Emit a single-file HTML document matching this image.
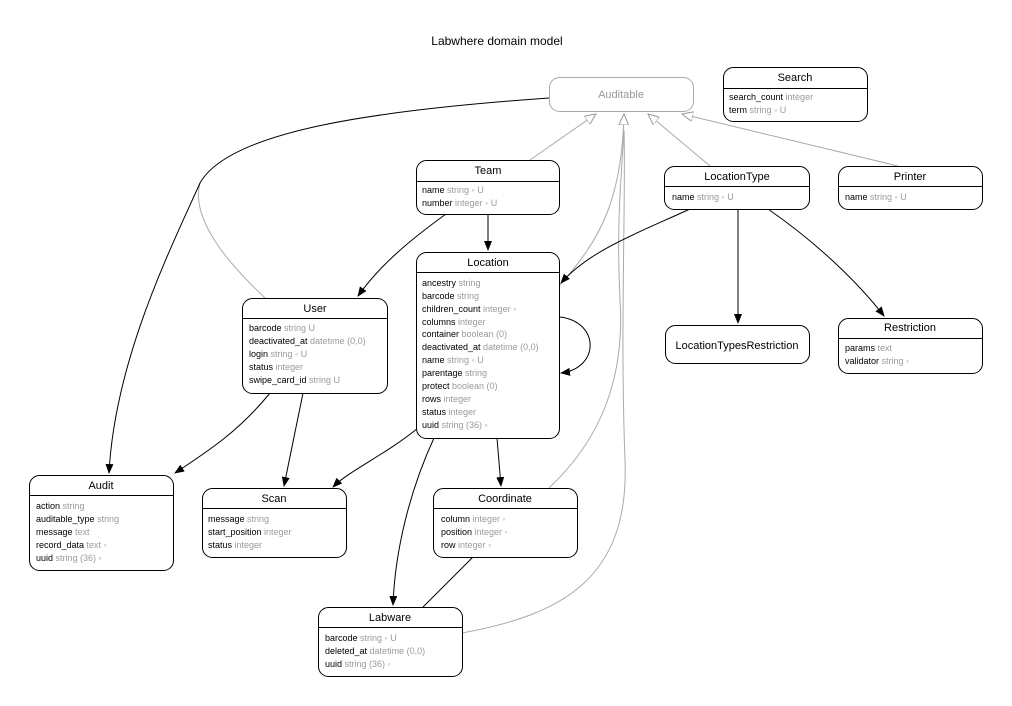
<!DOCTYPE html>
<html><head><meta charset="utf-8"><style>
html,body{margin:0;padding:0;background:#fff;}
svg{display:block;font-family:"Liberation Sans",Arial,sans-serif;}
.b{fill:#000;font-size:9px;}
.g{fill:#9a9a9a;font-size:9px;}
.h{font-size:11px;fill:#000;}
</style></head><body>
<svg width="1012" height="706" viewBox="0 0 1012 706" xmlns="http://www.w3.org/2000/svg">
<defs>
<marker id="a" markerWidth="10" markerHeight="8" refX="9" refY="4" orient="auto" markerUnits="userSpaceOnUse"><path d="M0,0 L10,4 L0,8 z" fill="#000"/></marker>
<marker id="h" markerWidth="12" markerHeight="10" refX="11" refY="5" orient="auto" markerUnits="userSpaceOnUse"><path d="M0,0 L11,5 L0,10 z" fill="#fff" stroke="#999" stroke-width="1"/></marker>
</defs>
<text x="497" y="45" text-anchor="middle" style="font-size:12px">Labwhere domain model</text>

<!-- gray generalization lines -->
<g fill="none" stroke="#aaa" stroke-width="1">
<path d="M530,160 L596,114" marker-end="url(#h)"/>
<path d="M710,166 L648,114" marker-end="url(#h)"/>
<path d="M898,166 L682,114" marker-end="url(#h)"/>
<path d="M560,285 C600,240 622,200 624,114" marker-end="url(#h)"/>
<path d="M549,488 C600,440 625,380 620,300 C616,220 622,170 624,130"/>
<path d="M462,633 C560,615 630,580 625,460 C620,330 626,200 624,130"/>
<path d="M265,298 C230,265 190,220 200,183"/>
</g>

<!-- black edges -->
<g fill="none" stroke="#000" stroke-width="1">
<path d="M549,98 C380,110 230,130 200,183 C170,250 115,360 109,473" marker-end="url(#a)"/>
<path d="M446,214 C410,240 380,265 358,296" marker-end="url(#a)"/>
<path d="M488,214 L488,250" marker-end="url(#a)"/>
<path d="M690,209 C640,232 590,250 561,283" marker-end="url(#a)"/>
<path d="M738,209 L738,323" marker-end="url(#a)"/>
<path d="M768,209 C820,245 860,285 884,316" marker-end="url(#a)"/>
<path d="M560,317 C600,322 600,368 561,373" marker-end="url(#a)"/>
<path d="M418,428 C385,455 350,470 333,487" marker-end="url(#a)"/>
<path d="M497,438 L501,486" marker-end="url(#a)"/>
<path d="M434,438 C410,490 395,550 393,605" marker-end="url(#a)"/>
<path d="M270,393 C240,430 210,450 175,473" marker-end="url(#a)"/>
<path d="M303,393 L284,486" marker-end="url(#a)"/>
<path d="M473,557 L423,607"/>
</g>

<!-- Auditable -->
<rect x="549.5" y="77.5" width="144" height="34" rx="10" fill="#fff" stroke="#aaa"/>
<text x="621" y="98" text-anchor="middle" style="font-size:11px;fill:#999">Auditable</text>

<g fill="#fff" stroke="#000" stroke-width="1">
<rect x="723.5" y="67.5" width="144" height="54" rx="10"/><line x1="723.5" y1="88.5" x2="867.5" y2="88.5"/>
<rect x="416.5" y="160.5" width="143" height="54" rx="10"/><line x1="416.5" y1="181.5" x2="559.5" y2="181.5"/>
<rect x="664.5" y="166.5" width="145" height="43" rx="10"/><line x1="664.5" y1="186.5" x2="809.5" y2="186.5"/>
<rect x="838.5" y="166.5" width="144" height="43" rx="10"/><line x1="838.5" y1="186.5" x2="982.5" y2="186.5"/>
<rect x="416.5" y="252.5" width="143" height="186" rx="10"/><line x1="416.5" y1="272.5" x2="559.5" y2="272.5"/>
<rect x="242.5" y="298.5" width="145" height="95" rx="10"/><line x1="242.5" y1="318.5" x2="387.5" y2="318.5"/>
<rect x="665.5" y="325.5" width="144" height="38" rx="10"/>
<rect x="838.5" y="318.5" width="144" height="55" rx="10"/><line x1="838.5" y1="338.5" x2="982.5" y2="338.5"/>
<rect x="29.5" y="475.5" width="144" height="95" rx="10"/><line x1="29.5" y1="495.5" x2="173.5" y2="495.5"/>
<rect x="202.5" y="488.5" width="144" height="69" rx="10"/><line x1="202.5" y1="508.5" x2="346.5" y2="508.5"/>
<rect x="433.5" y="488.5" width="144" height="69" rx="10"/><line x1="433.5" y1="508.5" x2="577.5" y2="508.5"/>
<rect x="318.5" y="607.5" width="144" height="69" rx="10"/><line x1="318.5" y1="627.5" x2="462.5" y2="627.5"/>
</g>

<!-- Search -->
<text class="h" x="795" y="81" text-anchor="middle">Search</text>
<text x="729" y="100"><tspan class="b">search_count</tspan><tspan class="g"> integer</tspan></text>
<text x="729" y="113"><tspan class="b">term</tspan><tspan class="g"> string ◦ U</tspan></text>
<!-- Team -->
<text class="h" x="488" y="174" text-anchor="middle">Team</text>
<text x="422" y="193"><tspan class="b">name</tspan><tspan class="g"> string ◦ U</tspan></text>
<text x="422" y="206"><tspan class="b">number</tspan><tspan class="g"> integer ◦ U</tspan></text>
<!-- LocationType -->
<text class="h" x="737" y="180" text-anchor="middle">LocationType</text>
<text x="672" y="200"><tspan class="b">name</tspan><tspan class="g"> string ◦ U</tspan></text>
<!-- Printer -->
<text class="h" x="910" y="180" text-anchor="middle">Printer</text>
<text x="845" y="200"><tspan class="b">name</tspan><tspan class="g"> string ◦ U</tspan></text>
<!-- Location -->
<text class="h" x="488" y="266" text-anchor="middle">Location</text>
<g>
<text x="422" y="286"><tspan class="b">ancestry</tspan><tspan class="g"> string</tspan></text>
<text x="422" y="299"><tspan class="b">barcode</tspan><tspan class="g"> string</tspan></text>
<text x="422" y="312"><tspan class="b">children_count</tspan><tspan class="g"> integer ◦</tspan></text>
<text x="422" y="325"><tspan class="b">columns</tspan><tspan class="g"> integer</tspan></text>
<text x="422" y="337"><tspan class="b">container</tspan><tspan class="g"> boolean (0)</tspan></text>
<text x="422" y="350"><tspan class="b">deactivated_at</tspan><tspan class="g"> datetime (0,0)</tspan></text>
<text x="422" y="363"><tspan class="b">name</tspan><tspan class="g"> string ◦ U</tspan></text>
<text x="422" y="376"><tspan class="b">parentage</tspan><tspan class="g"> string</tspan></text>
<text x="422" y="389"><tspan class="b">protect</tspan><tspan class="g"> boolean (0)</tspan></text>
<text x="422" y="402"><tspan class="b">rows</tspan><tspan class="g">  integer</tspan></text>
<text x="422" y="415"><tspan class="b">status</tspan><tspan class="g">  integer</tspan></text>
<text x="422" y="428"><tspan class="b">uuid</tspan><tspan class="g"> string (36) ◦</tspan></text>
</g>
<!-- User -->
<text class="h" x="315" y="312" text-anchor="middle">User</text>
<text x="249" y="331"><tspan class="b">barcode</tspan><tspan class="g"> string U</tspan></text>
<text x="249" y="344"><tspan class="b">deactivated_at</tspan><tspan class="g"> datetime (0,0)</tspan></text>
<text x="249" y="357"><tspan class="b">login</tspan><tspan class="g"> string ◦ U</tspan></text>
<text x="249" y="370"><tspan class="b">status</tspan><tspan class="g">  integer</tspan></text>
<text x="249" y="383"><tspan class="b">swipe_card_id</tspan><tspan class="g"> string U</tspan></text>
<!-- LocationTypesRestriction -->
<text class="h" x="737" y="349" text-anchor="middle">LocationTypesRestriction</text>
<!-- Restriction -->
<text class="h" x="910" y="331" text-anchor="middle">Restriction</text>
<text x="845" y="351"><tspan class="b">params</tspan><tspan class="g"> text</tspan></text>
<text x="845" y="364"><tspan class="b">validator</tspan><tspan class="g"> string ◦</tspan></text>
<!-- Audit -->
<text class="h" x="101" y="489" text-anchor="middle">Audit</text>
<text x="36" y="509"><tspan class="b">action</tspan><tspan class="g"> string</tspan></text>
<text x="36" y="522"><tspan class="b">auditable_type</tspan><tspan class="g"> string</tspan></text>
<text x="36" y="535"><tspan class="b">message</tspan><tspan class="g"> text</tspan></text>
<text x="36" y="548"><tspan class="b">record_data</tspan><tspan class="g"> text ◦</tspan></text>
<text x="36" y="561"><tspan class="b">uuid</tspan><tspan class="g"> string (36) ◦</tspan></text>
<!-- Scan -->
<text class="h" x="274" y="502" text-anchor="middle">Scan</text>
<text x="208" y="522"><tspan class="b">message</tspan><tspan class="g"> string</tspan></text>
<text x="208" y="535"><tspan class="b">start_position</tspan><tspan class="g"> integer</tspan></text>
<text x="208" y="548"><tspan class="b">status</tspan><tspan class="g">  integer</tspan></text>
<!-- Coordinate -->
<text class="h" x="505" y="502" text-anchor="middle">Coordinate</text>
<text x="441" y="522"><tspan class="b">column</tspan><tspan class="g"> integer ◦</tspan></text>
<text x="441" y="535"><tspan class="b">position</tspan><tspan class="g"> integer ◦</tspan></text>
<text x="441" y="548"><tspan class="b">row</tspan><tspan class="g"> integer ◦</tspan></text>
<!-- Labware -->
<text class="h" x="390" y="621" text-anchor="middle">Labware</text>
<text x="325" y="641"><tspan class="b">barcode</tspan><tspan class="g"> string ◦ U</tspan></text>
<text x="325" y="654"><tspan class="b">deleted_at</tspan><tspan class="g"> datetime (0,0)</tspan></text>
<text x="325" y="667"><tspan class="b">uuid</tspan><tspan class="g"> string (36) ◦</tspan></text>
</svg>
</body></html>
